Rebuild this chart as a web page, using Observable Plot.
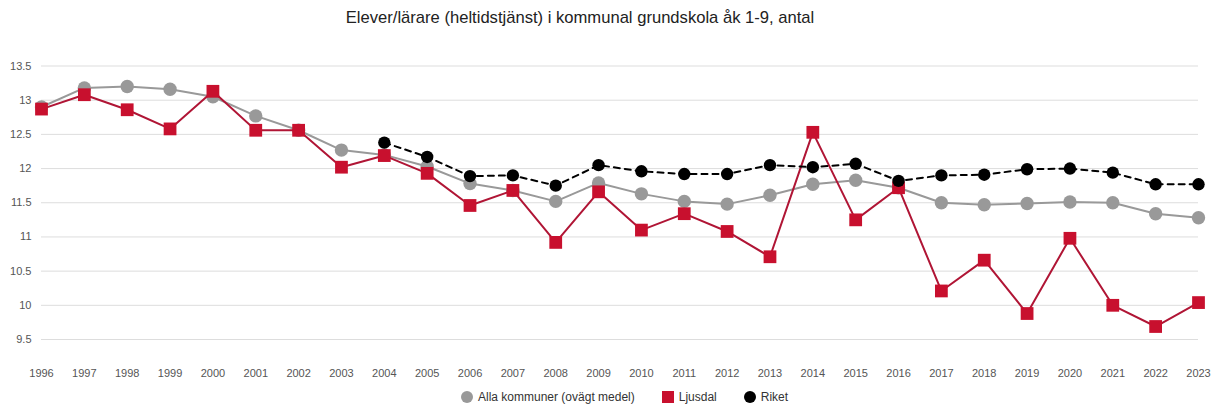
<!DOCTYPE html>
<html>
<head>
<meta charset="utf-8">
<script src="https://cdn.jsdelivr.net/npm/d3@7"></script>
<script src="https://cdn.jsdelivr.net/npm/@observablehq/plot@0.6"></script>
<style>
  html, body { margin: 0; padding: 0; background: #fff; }
  body { width: 1215px; height: 410px; position: relative; font-family: "Liberation Sans", Arial, sans-serif; overflow: hidden; }
  #title { position: absolute; left: 280px; width: 600px; top: 8px; text-align: center; font-size: 16.6px; color: #222; }
  #chart { position: absolute; left: 0; top: 40px; }
  #legend { position: absolute; left: 461px; top: 390px; font-size: 12px; color: #333; display: flex; align-items: center; }
  .item { display: flex; align-items: center; margin-right: 27px; }
  .sw { width: 12px; height: 12px; margin-right: 5px; }
</style>
</head>
<body>
<div id="title">Elever/lärare (heltidstjänst) i kommunal grundskola åk 1-9, antal</div>
<div id="chart"></div>
<div id="legend">
  <div class="item"><div class="sw" style="background:#999;border-radius:50%"></div>Alla kommuner (ovägt medel)</div>
  <div class="item"><div class="sw" style="background:#c8102e"></div>Ljusdal</div>
  <div class="item"><div class="sw" style="background:#000;border-radius:50%"></div>Riket</div>
</div>
<script>
const years = [1996,1997,1998,1999,2000,2001,2002,2003,2004,2005,2006,2007,2008,2009,2010,2011,2012,2013,2014,2015,2016,2017,2018,2019,2020,2021,2022,2023];
const alla = [12.9,13.18,13.2,13.16,13.05,12.77,12.56,12.27,12.2,12.03,11.78,11.68,11.52,11.79,11.63,11.52,11.48,11.61,11.77,11.83,11.72,11.5,11.47,11.49,11.51,11.5,11.34,11.28];
const ljusdal = [12.87,13.08,12.86,12.58,13.13,12.56,12.56,12.02,12.19,11.93,11.46,11.68,10.92,11.66,11.1,11.34,11.08,10.71,12.53,11.25,11.72,10.21,10.66,9.88,10.98,10.0,9.69,10.04];
const riketYears = [2004,2005,2006,2007,2008,2009,2010,2011,2012,2013,2014,2015,2016,2017,2018,2019,2020,2021,2022,2023];
const riket = [12.38,12.17,11.89,11.9,11.75,12.05,11.96,11.92,11.92,12.05,12.02,12.07,11.82,11.9,11.91,11.99,12.0,11.94,11.77,11.77];
const yTicks = [9.5,10,10.5,11,11.5,12,12.5,13,13.5];
const yTickLabels = ["9.5","10","10.5","11","11.5","12","12.5","13","13.5"];

const allaData = years.map((x, i) => ({x, y: alla[i]}));
const ljData = years.map((x, i) => ({x, y: ljusdal[i]}));
const rikData = riketYears.map((x, i) => ({x, y: riket[i]}));

const plot = Plot.plot({
  width: 1215,
  height: 345,
  marginLeft: 41,
  marginRight: 17,
  marginTop: 25.5,
  marginBottom: 46,
  style: { fontFamily: "Liberation Sans, Arial, sans-serif", fontSize: "11px", color: "#555", background: "transparent" },
  x: { domain: [1996, 2023] },
  y: { domain: [9.5, 13.5] },
  marks: [
    Plot.gridY(yTicks, { stroke: "#ddd", strokeOpacity: 1, strokeWidth: 1 }),
    Plot.axisY(yTicks, { tickSize: 0, tickPadding: 10, tickFormat: (d) => yTickLabels[yTicks.indexOf(d)], label: null, fill: "#555" }),
    Plot.axisX(years, { tickSize: 0, tickPadding: 30, tickFormat: (d) => String(d), label: null, fill: "#555" }),
    Plot.line(allaData, { x: "x", y: "y", stroke: "#999", strokeWidth: 2 }),
    Plot.dot(allaData, { x: "x", y: "y", fill: "#999", r: 6.7 }),
    Plot.line(ljData, { x: "x", y: "y", stroke: "#b01535", strokeWidth: 2 }),
    Plot.dot(ljData, { x: "x", y: "y", fill: "#c8102e", symbol: "square", r: 7.2 }),
    Plot.line(rikData, { x: "x", y: "y", stroke: "#000", strokeWidth: 2, strokeDasharray: "6,5" }),
    Plot.dot(rikData, { x: "x", y: "y", fill: "#000", r: 6.2 })
  ]
});
document.getElementById("chart").appendChild(plot);
</script>
</body>
</html>
